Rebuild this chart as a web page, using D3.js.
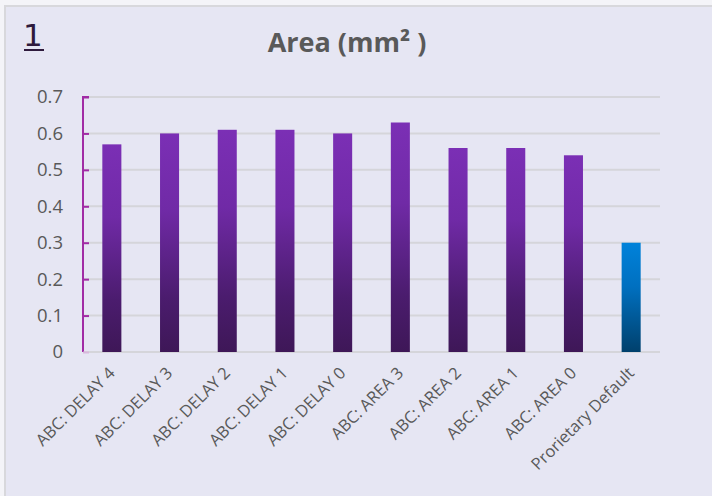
<!DOCTYPE html>
<html>
<head>
<meta charset="utf-8">
<script src="https://cdn.jsdelivr.net/npm/d3@7"></script>
<style>
  html, body { margin: 0; padding: 0; background: #ffffff; }
  svg { display: block; }
</style>
</head>
<body>
<svg id="chart" width="712" height="496"></svg>
<script>
const categories = ["ABC: DELAY 4", "ABC: DELAY 3", "ABC: DELAY 2", "ABC: DELAY 1", "ABC: DELAY 0",
                    "ABC: AREA 3", "ABC: AREA 2", "ABC: AREA 1", "ABC: AREA 0", "Proprietary Default"];
const labels = ["ABC: DELAY 4", "ABC: DELAY 3", "ABC: DELAY 2", "ABC: DELAY 1", "ABC: DELAY 0",
                "ABC: AREA 3", "ABC: AREA 2", "ABC: AREA 1", "ABC: AREA 0", "Prorietary Default"];
const values = [0.57, 0.60, 0.61, 0.61, 0.60, 0.63, 0.56, 0.56, 0.54, 0.30];
const seriesGroup = ["abc", "abc", "abc", "abc", "abc", "abc", "abc", "abc", "abc", "prop"];
const yTicks = [0, 0.1, 0.2, 0.3, 0.4, 0.5, 0.6, 0.7];
const title = "Area (mm² )";
const badge = "1";

(function () {
const svg = d3.select("#chart");
const W = 712, H = 496;
const font = "'Open Sans', 'DejaVu Sans', sans-serif";

// panel
svg.append("rect").attr("x", 0).attr("y", 0).attr("width", W).attr("height", H).attr("fill", "#f4f4f8");
svg.append("rect").attr("x", 5).attr("y", 6).attr("width", W - 5).attr("height", H - 6)
  .attr("fill", "#e6e6f3");
svg.append("path").attr("d", `M5,${H}V6H${W}`).attr("fill", "none")
  .attr("stroke", "#d8d8dc").attr("stroke-width", 2);

const defs = svg.append("defs");
const gA = defs.append("linearGradient").attr("id", "gradAbc").attr("x1", 0).attr("y1", 0).attr("x2", 0).attr("y2", 1);
gA.append("stop").attr("offset", "0%").attr("stop-color", "#7b2fb5");
gA.append("stop").attr("offset", "35%").attr("stop-color", "#702aa6");
gA.append("stop").attr("offset", "75%").attr("stop-color", "#4b1c6e");
gA.append("stop").attr("offset", "100%").attr("stop-color", "#3e1757");
const gP = defs.append("linearGradient").attr("id", "gradProp").attr("x1", 0).attr("y1", 0).attr("x2", 0).attr("y2", 1);
gP.append("stop").attr("offset", "0%").attr("stop-color", "#0082da");
gP.append("stop").attr("offset", "40%").attr("stop-color", "#0070c0");
gP.append("stop").attr("offset", "100%").attr("stop-color", "#00406c");

const pLeft = 83, pRight = 660, pTop = 97, pBottom = 352;

const x = d3.scaleBand().domain(categories).range([pLeft, pRight]).paddingInner(0.67).paddingOuter(0.335);
const y = d3.scaleLinear().domain([0, 0.7]).range([pBottom, pTop]);

// gridlines
svg.append("g").selectAll("line").data(yTicks).join("line")
  .attr("x1", pLeft).attr("x2", pRight)
  .attr("y1", d => y(d)).attr("y2", d => y(d))
  .attr("stroke", "#d5d5da").attr("stroke-width", 2);

// bars
svg.append("g").selectAll("rect").data(categories).join("rect")
  .attr("x", d => x(d))
  .attr("width", x.bandwidth())
  .attr("y", (d, i) => y(values[i]))
  .attr("height", (d, i) => y(0) - y(values[i]))
  .attr("fill", (d, i) => seriesGroup[i] === "abc" ? "url(#gradAbc)" : "url(#gradProp)");

// y axis
const yAxis = d3.axisLeft(y).tickValues(yTicks).tickSize(-6).tickPadding(20)
  .tickFormat(d => d === 0 ? "0" : d3.format(".1f")(d));
const ya = svg.append("g").attr("transform", `translate(${pLeft},0)`).call(yAxis);
ya.select(".domain").attr("stroke", "#a12ca5").attr("stroke-width", 2).attr("fill", "none")
  .attr("d", `M6,${pTop}H0V${pBottom}`);
ya.selectAll(".tick line").attr("stroke", "#a12ca5").attr("stroke-width", 2);
ya.selectAll(".tick").filter(d => d === 0).select("line").attr("stroke", "#d9b8dc");
ya.selectAll(".tick text").attr("fill", "#595959").attr("font-family", font).attr("font-size", 18.5)
  .attr("text-anchor", "end");

// x labels
svg.append("g").selectAll("text").data(categories).join("text")
  .attr("transform", d => `translate(${x(d) + x.bandwidth() / 2 + 4},${pBottom + 22}) rotate(-45)`)
  .attr("text-anchor", "end")
  .attr("fill", "#595959").attr("font-family", font).attr("font-size", 16.5)
  .text((d, i) => labels[i]);

// title
svg.append("text").attr("x", 347).attr("y", 52).attr("text-anchor", "middle")
  .attr("fill", "#595959").attr("font-family", font).attr("font-weight", "bold").attr("font-size", 27)
  .text(title);

// badge
svg.append("text").attr("x", 23).attr("y", 46)
  .attr("fill", "#2e1a3c").attr("font-family", "'DejaVu Sans', sans-serif").attr("font-size", 31)
  .text(badge);
svg.append("line").attr("x1", 24).attr("x2", 44).attr("y1", 50).attr("y2", 50)
  .attr("stroke", "#2e1a3c").attr("stroke-width", 2);
})();
</script>
</body>
</html>
